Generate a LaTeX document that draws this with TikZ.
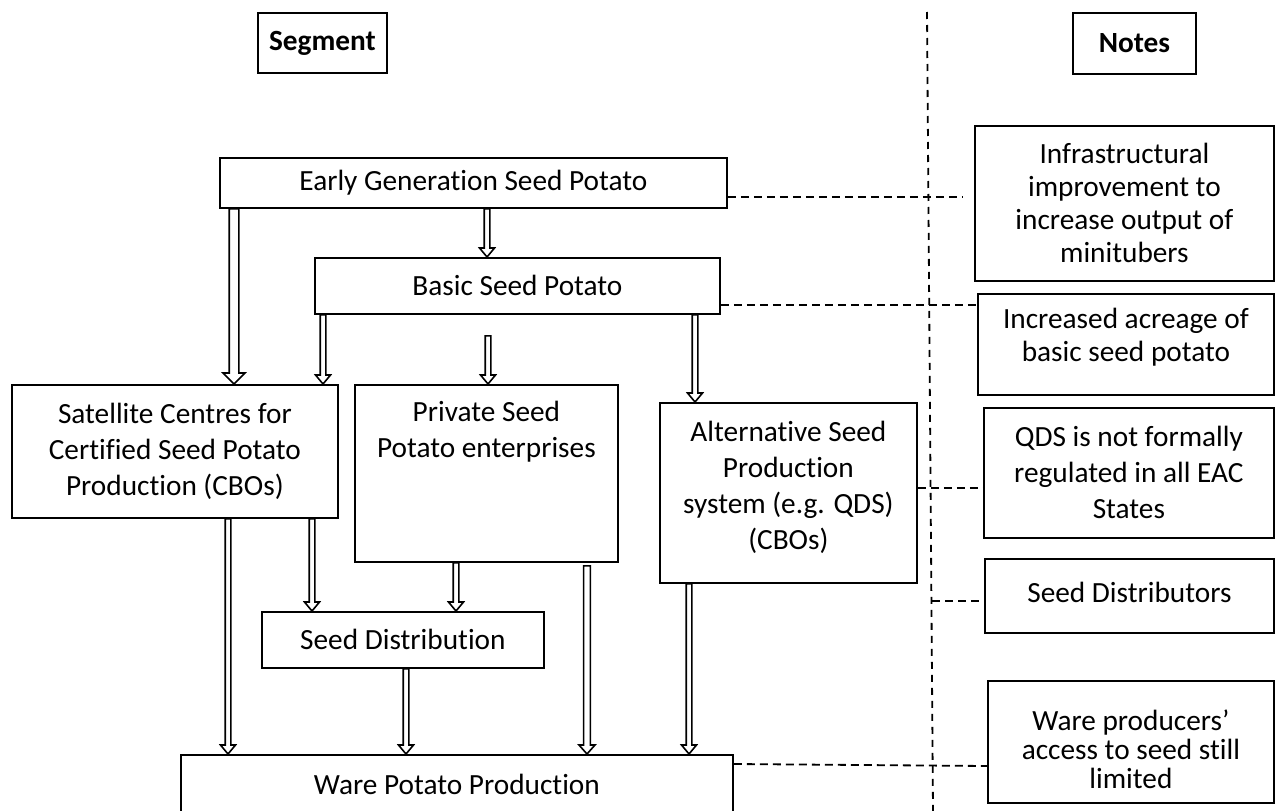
\documentclass[tikz,border=0pt]{standalone}
\usepackage{fontspec}
\setmainfont{Carlito}[Ligatures=NoCommon]
\usetikzlibrary{calc}
\begin{document}
\begin{tikzpicture}[x=1pt,y=-1pt,
  box/.style={draw, line width=1.8pt, inner sep=0pt, anchor=north west, align=center,
    font=\fontsize{29.3}{36}\selectfont},
  tight/.style={font=\fontsize{29.3}{33}\selectfont},
  tighter/.style={font=\fontsize{29.3}{29}\selectfont},
  txt/.style={inner sep=0pt, align=center, font=\fontsize{29.3}{36}\selectfont},
  arr/.style n args={3}{draw, line width=1.6pt, fill=white, line join=miter,
    to path={let \p1=(\tikztostart), \p2=(\tikztotarget) in
      (\x1-#1,\y1) -- (\x1-#1,\y2+#3) -- (\x1-#2,\y2+#3) -- (\x1,\y2)
      -- (\x1+#2,\y2+#3) -- (\x1+#1,\y2+#3) -- (\x1+#1,\y1) -- cycle}},
  thin/.style={arr={2.8pt}{7.5pt}{9pt}},
  mid/.style={arr={3.4pt}{8pt}{9pt}},
  wide/.style={arr={4.8pt}{11pt}{11pt}},
  dline/.style={line width=1.8pt, dash pattern=on 8pt off 5pt},
  vline/.style={line width=1.8pt, dash pattern=on 7pt off 6pt}
]
\useasboundingbox (0,0) rectangle (1275,811);

% header boxes
\node[box, minimum width=129, minimum height=60, font=\fontsize{29.3}{36}\selectfont\bfseries] (seg) at (257,12) {Segment};
\node[box, minimum width=123, minimum height=61, font=\fontsize{29.3}{36}\selectfont\bfseries] (notes) at (1072,12) {Notes};

% separator
\coordinate (vtop) at (927,12);
\coordinate (vbot) at (933,811);
\draw[vline] (vtop) -- (vbot);

% main chain
\node[box, minimum width=507, minimum height=50] (eg) at (219,157) {Early Generation Seed Potato};
\node[box, minimum width=405, minimum height=56] (basic) at (314,257) {Basic Seed Potato};
\node[box, minimum width=326, minimum height=133] (sat) at (11,384) {Satellite Centres for\\Certified Seed Potato\\Production (CBOs)};
\node[box, minimum width=263, minimum height=177] (priv) at (354,384) {};
\node[txt, anchor=north] (privtxt) at ($(priv.north)+(0,17)$) {Private Seed\\Potato enterprises};
\node[box, minimum width=257, minimum height=180] (alt) at (659,402) {};
\node[txt] (alttxt) at ($(alt.center)+(0,-6)$) {Alternative Seed\\Production\\system (e.g. QDS)\\(CBOs)};
\node[box, minimum width=282, minimum height=56] (sd) at (261,611) {Seed Distribution};
\node[box, minimum width=552, minimum height=60] (ware) at (180,754) {Ware Potato Production};

% notes
\node[box, tight, minimum width=299, minimum height=155] (n1) at (974,125) {Infrastructural\\improvement to\\increase output of\\minitubers};
\node[box, minimum width=296, minimum height=101] (n2) at (977,293) {};
\node[txt, tight] (n2txt) at ($(n2.center)+(0,-7)$) {Increased acreage of\\basic seed potato};
\node[box, minimum width=290, minimum height=130] (n3) at (983,407) {QDS is not formally\\regulated in all EAC\\States};
\node[box, minimum width=289, minimum height=74] (n4) at (984,558) {};
\node[txt] (n4txt) at ($(n4.center)+(0,-3)$) {Seed Distributors};
\node[box, minimum width=286, minimum height=122] (n5) at (987,680) {};
\node[txt, tighter] (n5txt) at ($(n5.center)+(0,7)$) {Ware producers'\\access to seed still\\limited};

% arrows
\draw[wide] (234,0 |- eg.south) to (234,0 |- sat.north);
\draw[thin] (487,0 |- eg.south) to (487,0 |- basic.north);
\draw[thin] (323,0 |- basic.south) to (323,0 |- sat.north);
\draw[thin] ($(488,0 |- basic.south)+(0,21)$) to (488,0 |- priv.north);
\draw[thin] (695,0 |- basic.south) to (695,0 |- alt.north);
\draw[thin] (228,0 |- sat.south) to (228,0 |- ware.north);
\draw[thin] (312,0 |- sat.south) to (312,0 |- sd.north);
\draw[thin] (456,0 |- priv.south) to (456,0 |- sd.north);
\draw[mid] ($(587,0 |- priv.south)+(0,3)$) to (587,0 |- ware.north);
\draw[thin] (406,0 |- sd.south) to (406,0 |- ware.north);
\draw[thin] (689,0 |- alt.south) to (689,0 |- ware.north);

% dashed connectors
\coordinate (d1end) at (962,197);
\draw[dline] (eg.east |- d1end) -- (d1end);
\draw[dline] (basic.east |- 0,305) -- (n2.west |- 0,305);
\draw[dline] (alt.east |- 0,488) -- (n3.west |- 0,488);
\coordinate (d4start) at (932,601);
\draw[dline] (d4start) -- (n4.west |- d4start);
\draw[dline] (ware.east |- 0,764) -- (n5.west |- 0,766);
\end{tikzpicture}
\end{document}
